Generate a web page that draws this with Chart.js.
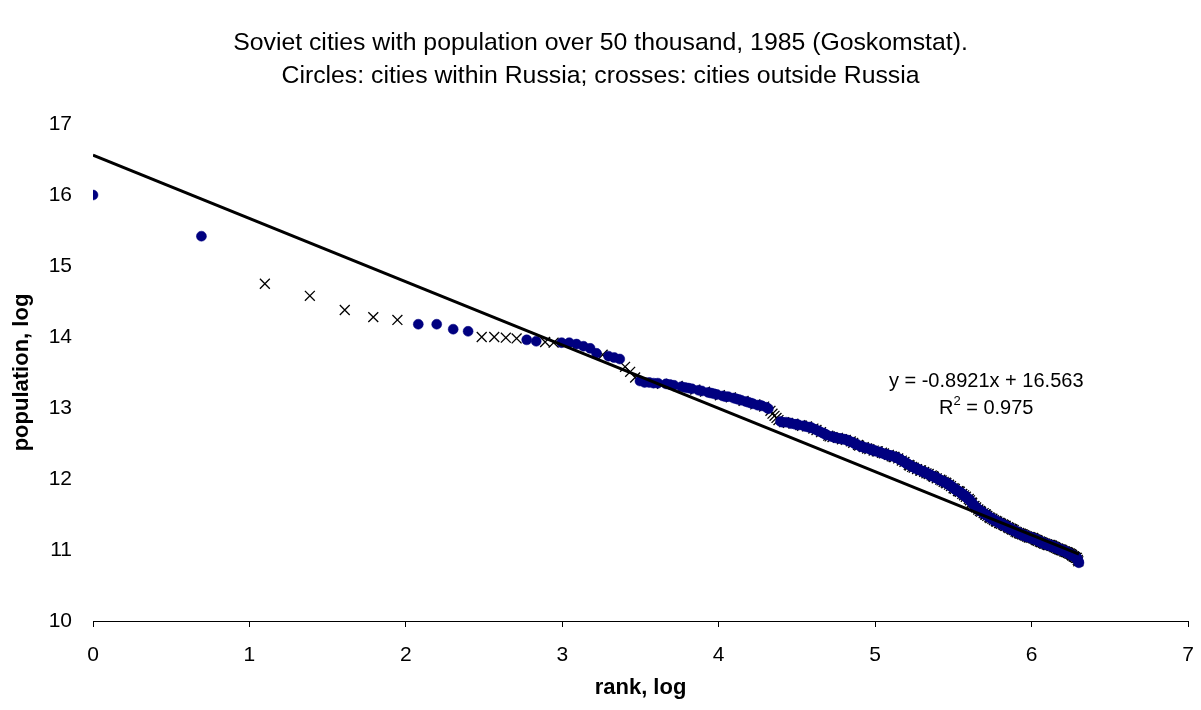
<!DOCTYPE html>
<html><head><meta charset="utf-8">
<script src="https://cdn.jsdelivr.net/npm/chart.js@4.4.1/dist/chart.umd.min.js"></script>
<style>html,body{margin:0;padding:0;background:#fff}#wrap{width:1201px;height:710px}</style>
</head><body><div id="wrap"><canvas id="c" width="1201" height="710"></canvas></div>
<script>
const titleLines = ["Soviet cities with population over 50 thousand, 1985 (Goskomstat).", "Circles: cities within Russia; crosses: cities outside Russia"];
const xAxisTitle = "rank, log";
const yAxisTitle = "population, log";
const xTickValues = [0, 1, 2, 3, 4, 5, 6, 7];
const yTickValues = [10, 11, 12, 13, 14, 15, 16, 17];

// log(population) of each city, in rank order (rank 1 = largest)
const logPopulationByRank = [
16.00,15.42,14.75,14.58,14.38,14.28,14.24,14.18,14.18,14.11,14.08,14.00,14.00,13.99,13.98,13.96,13.94,13.93,13.92,13.92,13.92,13.90,13.87,13.84,13.77,13.75,13.73,13.71,13.69,13.58,13.51,13.43,13.38,13.36,13.36,
13.35,13.35,13.34,13.34,13.33,13.32,13.31,13.30,13.29,13.28,13.27,13.26,13.25,
13.24,13.23,13.22,13.21,13.20,13.19,13.18,13.17,13.16,13.16,13.15,13.14,
13.13,13.12,13.11,13.10,13.09,13.08,13.07,13.06,13.05,13.04,13.04,13.03,13.02,13.01,12.99,
12.96,12.92,12.89,12.86,12.83,
12.81,12.80,12.80,12.80,12.79,12.79,12.78,12.78,12.77,12.77,12.76,12.76,12.75,12.75,12.74,12.74,12.73,12.73,12.72,
12.71,12.70,12.69,12.68,12.67,12.66,12.65,12.64,12.63,12.62,12.61,12.60,
12.60,12.59,12.59,12.58,12.58,12.58,12.57,12.57,12.56,12.56,12.56,12.55,12.55,
12.54,12.53,12.53,12.52,12.51,12.50,12.49,12.49,12.48,12.47,12.46,12.46,12.45,
12.45,12.44,12.44,12.43,12.43,12.42,12.42,12.41,12.41,12.40,12.40,12.39,12.39,12.39,12.38,12.38,
12.37,12.37,12.36,12.36,12.35,12.35,12.34,12.34,12.34,12.33,12.33,12.32,12.32,12.31,12.31,12.31,12.30,12.30,
12.29,12.28,12.28,12.27,12.26,12.25,12.25,12.24,12.23,12.22,12.22,12.21,12.20,12.19,12.19,12.18,12.17,12.17,
12.16,12.16,12.15,12.15,12.14,12.14,12.13,12.13,12.12,12.12,12.11,12.11,12.10,12.10,12.09,12.09,12.08,12.08,12.07,12.07,12.06,12.06,
12.05,12.05,12.04,12.04,12.03,12.03,12.02,12.02,12.01,12.01,12.00,12.00,11.99,11.99,11.98,11.98,11.97,11.97,11.96,11.96,11.95,11.95,11.94,11.94,
11.93,11.93,11.92,11.91,11.91,11.90,11.89,11.89,11.88,11.87,11.87,11.86,11.85,11.85,11.84,11.84,11.83,11.83,11.82,11.82,
11.81,11.80,11.80,11.79,11.78,11.78,11.77,11.76,11.76,11.75,11.74,11.74,11.73,11.72,11.72,
11.71,11.70,11.69,11.68,11.67,11.66,11.65,11.64,11.63,11.62,11.61,11.60,11.60,11.59,11.58,11.58,11.57,11.56,11.56,11.55,11.55,11.54,11.54,11.53,11.53,11.52,
11.52,11.51,11.51,11.50,11.50,11.49,11.49,11.48,11.48,11.47,11.47,11.46,11.46,11.45,11.45,11.44,11.44,11.44,11.43,11.43,11.42,11.42,11.42,11.41,11.41,11.40,11.40,11.40,11.39,11.39,11.39,11.38,11.38,11.38,
11.37,11.37,11.37,11.36,11.36,11.36,11.35,11.35,11.35,11.34,11.34,11.34,11.33,11.33,11.33,11.32,11.32,11.32,11.31,11.31,11.31,11.30,11.30,11.30,11.29,11.29,11.29,11.28,11.28,11.28,11.27,11.27,11.27,11.26,11.26,11.26,11.25,11.25,11.25,
11.25,11.24,11.24,11.24,11.23,11.23,11.23,11.23,11.22,11.22,11.22,11.22,11.21,11.21,11.21,11.21,11.20,11.20,11.20,11.20,11.20,11.19,11.19,11.19,11.19,11.19,11.18,11.18,11.18,11.18,11.18,11.18,11.17,11.17,11.17,11.17,11.17,11.17,
11.16,11.16,11.16,11.16,11.15,11.15,11.15,11.15,11.14,11.14,11.14,11.14,11.13,11.13,11.13,11.13,11.12,11.12,11.12,11.12,11.11,11.11,11.11,11.11,11.10,11.10,11.10,11.10,11.10,11.09,11.09,11.09,11.09,11.09,11.08,11.08,11.08,11.08,11.08,11.08,11.07,11.07,11.07,11.07,11.07,11.07,11.07,11.07,
11.06,11.06,11.06,11.06,11.06,11.05,11.05,11.05,11.05,11.05,11.04,11.04,11.04,11.04,11.04,11.03,11.03,11.03,11.03,11.03,11.02,11.02,11.02,11.02,11.02,11.01,11.01,11.01,11.01,11.01,11.00,11.00,11.00,11.00,11.00,11.00,10.99,10.99,10.99,10.99,10.99,10.98,10.98,10.98,10.98,10.98,10.97,10.97,10.97,10.97,10.97,10.97,
10.96,10.96,10.96,10.96,10.95,10.95,10.95,10.95,10.94,10.94,10.94,10.94,10.93,10.93,10.93,10.93,10.92,10.92,10.92,10.92,10.91,10.91,10.91,10.91,10.90,10.90,10.90,10.90,10.89,10.89,10.89,10.89,
10.88,10.87,10.86,10.85,10.84,10.83,10.82
];

// R = city within Russia (circle), X = city outside Russia (cross), in rank order
const regionByRank = [
"RRXXXXXRRRRXXXXRRXXRRRRRRXRRRXXXRRR",
"RRXRRRXRRRRXRRXRRRRXRRRXRRRRXRRRRXRRRXRR",
"XXXXX",
"RRXRXRRXRRRXXRRXRRRXRXRRXRRRRXXRXRRRXRRXRRXRRRXRXRRRXXRRRXRRXR",
"XRRRXRRXXRRRXRXRRRRXRRXRXXRRRXRRRXRRXRRRRXXRRXRXRRRXRRRXXRRRXR",
"RXRRXRRRXRXXRRRXRRRRXRXRRXRRXXRRRXRRXRRRXRXRRRRXXRXRRRXRRXRRXR",
"RRRXRXRRXXRRRXRRXRRRXRRXRXRRRRXRRXXRRXRRRXRXRRRXRRXRRRXXRXRRRX",
"XRRXRRRXRXRRXXRRRRXRRXRRRXRXXRRXRRRXRRXRRRRXRXRRXRRXXRRRXRRXRR",
"RXRRRXXRRXRRXRRRXRXRRRXRRXXRRXRRRRXRRXRXRRRXRRXRRXRRRXXRRXRRRX",
"RRXRRXRXRRRXRRXXRRRXRRRXRXRRXRRRXXRRXRRXRRRRXRXRRXRRRXRRXXRRRX",
"XRRRXRRXRXRRRXXRRXRRRXRRXRRXRXRRRRXXRRRXRRXRRXRRRXRXRRXRRRXRRR"
].join("");

const trendSlope = -0.8921;
const trendIntercept = 16.563;
const trendR2 = "0.975";

const russiaPoints = [], otherPoints = [];
logPopulationByRank.forEach((v, i) => {
  const p = {x: Math.log(i + 1), y: v};
  if ((regionByRank[i] || "R") === "X") otherPoints.push(p); else russiaPoints.push(p);
});
const lastX = Math.log(logPopulationByRank.length);
const trendPoints = [
  {x: 0, y: trendIntercept},
  {x: lastX, y: trendIntercept + trendSlope * lastX}
];

Chart.defaults.font.family = "'Liberation Sans', Arial, sans-serif";
Chart.defaults.color = "#000";

const trendLabel = {
  id: "trendLabel",
  afterDatasetsDraw(chart) {
    const {ctx, scales: {x, y}} = chart;
    ctx.save();
    ctx.fillStyle = "#000";
    ctx.textBaseline = "middle";
    const big = "20px 'Liberation Sans', Arial, sans-serif";
    const small = "13px 'Liberation Sans', Arial, sans-serif";
    const cx = x.getPixelForValue(5.71);
    const line1 = "y = " + trendSlope + "x + " + trendIntercept;
    ctx.font = big;
    ctx.textAlign = "center";
    ctx.fillText(line1, cx, y.getPixelForValue(13.37));
    const y2 = y.getPixelForValue(13.0);
    const rest = " = " + trendR2;
    const wR = ctx.measureText("R").width;
    const wRest = ctx.measureText(rest).width;
    ctx.font = small;
    const wSup = ctx.measureText("2").width;
    const total = wR + wSup + wRest;
    const sx = cx - total / 2;
    ctx.textAlign = "left";
    ctx.font = big;
    ctx.fillText("R", sx, y2);
    ctx.font = small;
    ctx.fillText("2", sx + wR, y2 - 7);
    ctx.font = big;
    ctx.fillText(rest, sx + wR + wSup, y2);
    ctx.restore();
  }
};

new Chart(document.getElementById("c"), {
  type: "scatter",
  data: {
    datasets: [
      {type: "line", data: trendPoints, borderColor: "#000", borderWidth: 3, pointRadius: 0, fill: false, order: 0},
      {data: russiaPoints, pointStyle: "circle", pointRadius: 5, backgroundColor: "#000080", borderColor: "#000080", borderWidth: 0.5, order: 1},
      {data: otherPoints, pointStyle: "crossRot", pointRadius: 7, borderColor: "#000", backgroundColor: "#000", borderWidth: 1.3, order: 2}
    ]
  },
  options: {
    responsive: false,
    animation: false,
    devicePixelRatio: 1,
    layout: {padding: 0},
    plugins: {
      legend: {display: false},
      tooltip: {enabled: false},
      title: {
        display: true, text: titleLines, color: "#000",
        font: {size: 24.8, weight: "normal", lineHeight: "33px"},
        padding: {top: 27, bottom: 31}
      }
    },
    scales: {
      x: {
        type: "linear", min: 0, max: 7,
        afterBuildTicks: s => { s.ticks = xTickValues.map(v => ({value: v})); },
        afterFit: s => { s.height = 89; s.paddingLeft = 0; s.paddingRight = 13; },
        ticks: {font: {size: 21}, color: "#000", padding: 16},
        grid: {display: true, drawOnChartArea: false, drawTicks: true, tickLength: 6, color: "#000", lineWidth: 1},
        border: {display: true, color: "#000", width: 1},
        title: {display: true, text: xAxisTitle, color: "#000", font: {size: 22, weight: "bold"}, padding: {top: 0, bottom: 9}}
      },
      y: {
        type: "linear", min: 10, max: 17,
        afterBuildTicks: s => { s.ticks = yTickValues.map(v => ({value: v})); },
        afterFit: s => { s.width = 93; },
        ticks: {font: {size: 21}, color: "#000", padding: 21},
        grid: {display: false, drawTicks: false},
        border: {display: false},
        title: {display: true, text: yAxisTitle, color: "#000", font: {size: 22, weight: "bold"}, padding: {top: 9, bottom: 0}}
      }
    }
  },
  plugins: [trendLabel]
});
</script>
</body></html>
